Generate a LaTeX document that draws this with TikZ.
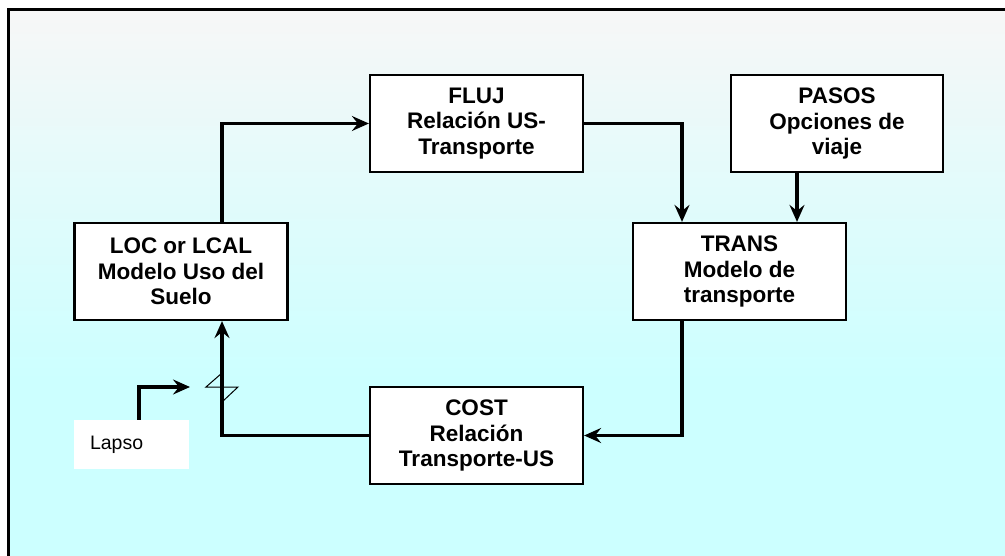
\documentclass[tikz,border=0pt]{standalone}
\usepackage{fontspec}
\setmainfont{Liberation Sans}
\usetikzlibrary{arrows.meta}
\definecolor{bgtop}{HTML}{F7F7F7}
\definecolor{bgbot}{HTML}{CCFFFF}
\begin{document}
\begin{tikzpicture}[x=1pt,y=-1pt,
  box/.style={draw=black,line width=2.2pt,fill=white,minimum width=213pt,minimum height=97pt,
    align=center,inner sep=0pt,font=\fontsize{22.5}{25.5}\selectfont\bfseries},
  conn/.style={line width=3.2pt,-{Stealth[length=17pt,width=15pt,inset=6pt]}},
  lapsobox/.style={fill=white,minimum height=49pt,text width=83pt,inner xsep=16pt,inner ysep=0pt,
    align=left,font=\fontsize{19.5}{22}\selectfont}]
\useasboundingbox (0,0) rectangle (1005,556);
% background
\fill[white] (0,0) rectangle (1005,556);
\fill[bgbot] (9,10) rectangle (1005,556);
\shade[top color=bgtop,bottom color=bgbot] (9,10) rectangle (1005,380);
\draw[line width=2.2pt] (1010,9.5) -- (8.5,9.5) -- (8.5,560);
% helper coordinates
\coordinate (c1) at (222,0);
\coordinate (c2) at (682,0);
\coordinate (c3) at (797,0);
\coordinate (c4) at (139,0);
\coordinate (c5) at (190,387);
\coordinate (z) at (222,387);
% boxes
\node[box] (loc) at (181,271.5) {LOC or LCAL\\Modelo Uso del\\Suelo};
\node[box] (fluj) at (476.5,123.5) {FLUJ\\Relación US-\\Transporte};
\node[box,minimum width=212pt] (pasos) at (837,123.5) {PASOS\\Opciones de\\viaje};
\node[box] (trans) at (739.5,271.5) {TRANS\\Modelo de\\transporte};
\node[box] (cost) at (476.5,435.5) {COST\\Relación\\Transporte-US};
\node[lapsobox] (lapso) at (131.5,444.5) {Lapso};
% connectors
\draw[conn] (loc.north -| c1) |- (fluj.west);
\draw[conn] (fluj.east) -| (trans.north -| c2);
\draw[conn] (pasos.south -| c3) -- (trans.north -| c3);
\draw[conn] (trans.south -| c2) |- (cost.east);
\draw[conn] (cost.west) -| (loc.south -| c1);
\draw[conn] (lapso.north -| c4) |- (c5);
% lag symbol
\draw[line width=1pt] (z) ++(0,-14) -- ++(-16,14) -- ++(32,0) -- ++(-16,15);
\end{tikzpicture}
\end{document}
